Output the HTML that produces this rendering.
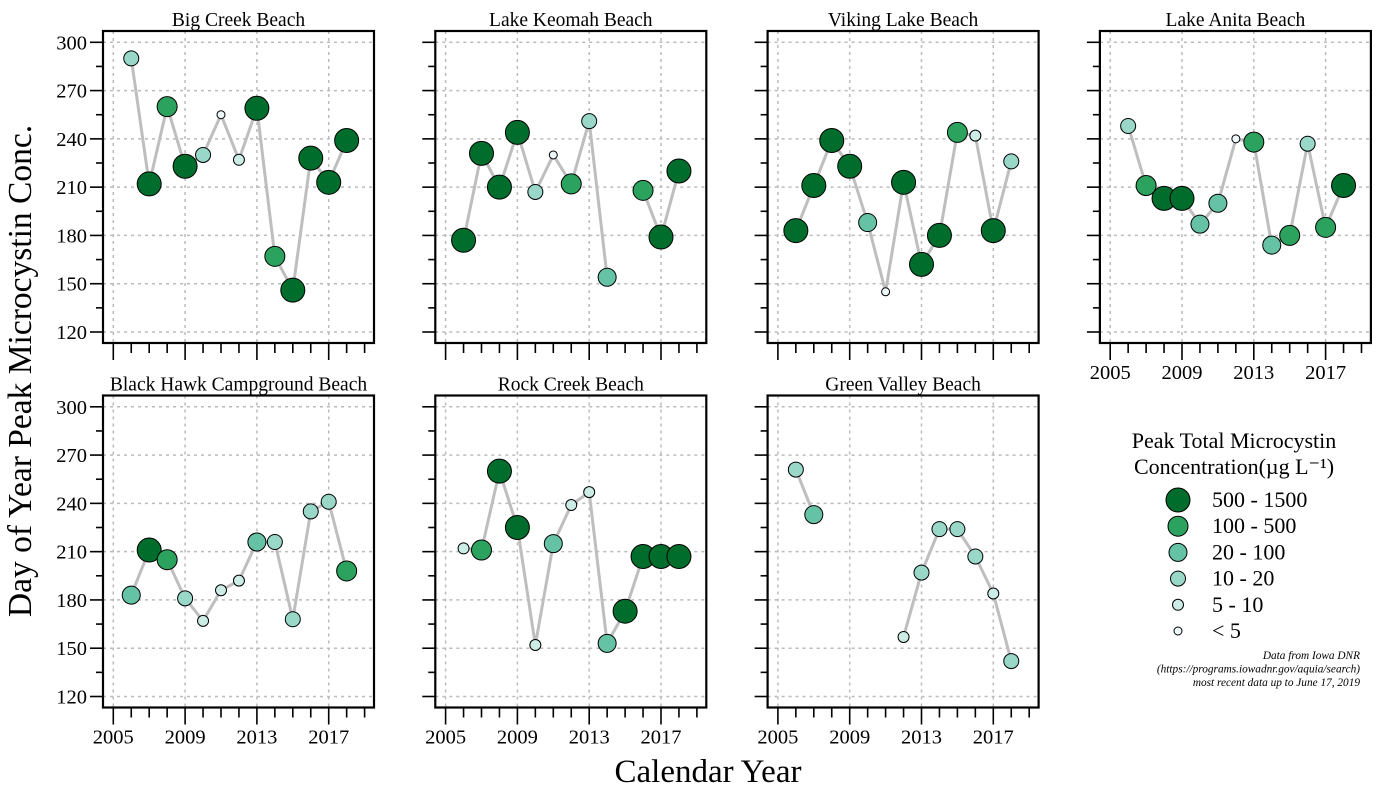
<!DOCTYPE html>
<html><head><meta charset="utf-8"><style>
body{margin:0;background:#fff}
svg{display:block;font-family:"Liberation Serif",serif}
</style></head><body>
<svg id="c" width="1400" height="800"></svg>
<script>
const years=[2006,2007,2008,2009,2010,2011,2012,2013,2014,2015,2016,2017,2018];
const panelNames=["Big Creek Beach","Lake Keomah Beach","Viking Lake Beach","Lake Anita Beach","Black Hawk Campground Beach","Rock Creek Beach","Green Valley Beach"];
const bigCreekDay=[290,212,260,223,230,255,227,259,167,146,228,213,239];
const bigCreekCls=[2,5,4,5,2,0,1,5,4,5,5,5,5];
const keomahDay=[177,231,210,244,207,230,212,251,154,null,208,179,220];
const keomahCls=[5,5,5,5,2,0,4,2,3,null,4,5,5];
const vikingDay=[183,211,239,223,188,145,213,162,180,244,242,183,226];
const vikingCls=[5,5,5,5,3,0,5,5,5,4,1,5,2];
const anitaDay=[248,211,203,203,187,200,240,238,174,180,237,185,211];
const anitaCls=[2,4,5,5,3,3,0,4,3,4,2,4,5];
const blackHawkDay=[183,211,205,181,167,186,192,216,216,168,235,241,198];
const blackHawkCls=[3,5,4,2,1,1,1,3,2,2,2,2,4];
const rockCreekDay=[212,211,260,225,152,215,239,247,153,173,207,207,207];
const rockCreekCls=[1,4,5,5,1,3,1,1,3,5,5,5,5];
const greenValleyDay=[261,233,null,null,null,null,157,197,224,224,207,184,142];
const greenValleyCls=[2,3,null,null,null,null,1,2,2,2,2,1,2];
const classLabels=["< 5","5 - 10","10 - 20","20 - 100","100 - 500","500 - 1500"];
const classColors=["#edf8fb","#ccece6","#99d8c9","#66c2a4","#2ca25f","#006d2c"];
const classR=[4,5.5,7.5,9,10,12];
const yTicks=[120,150,180,210,240,270,300];
const xTickLabels=[2005,2009,2013,2017];

const days=[bigCreekDay,keomahDay,vikingDay,anitaDay,blackHawkDay,rockCreekDay,greenValleyDay];
const clss=[bigCreekCls,keomahCls,vikingCls,anitaCls,blackHawkCls,rockCreekCls,greenValleyCls];
const NS="http://www.w3.org/2000/svg";
const svg=document.getElementById('c');
function mk(t,a,p){const e=document.createElementNS(NS,t);for(const k in a)e.setAttribute(k,a[k]);(p||svg).appendChild(e);return e;}
const PW=271,PH=312;
for(let p=0;p<7;p++){
  const col=p<4?p:p-4,row=p<4?0:1;
  const L=103+col*332.3,T=31+row*364.5;
  const xs=y=>L+10.3+(y-2005)*17.95;
  const ys=v=>T+11.3+(300-v)*(289.7/180);
  const g=mk('g',{});
  
  
  const t=mk('text',{x:L+PW/2,y:T-5,'text-anchor':'middle','font-size':19.5},g);t.textContent=panelNames[p];
  
  
  for(const v of yTicks)mk('line',{x1:L,x2:L+PW,y1:ys(v),y2:ys(v),stroke:'#bbb','stroke-width':1.5,'stroke-dasharray':'3 4'},g);
  for(const v of xTickLabels)mk('line',{x1:xs(v),x2:xs(v),y1:T,y2:T+PH,stroke:'#bbb','stroke-width':1.5,'stroke-dasharray':'3 4'},g);
  for(let v=120;v<=300;v+=15){const maj=v%30==0;mk('line',{x1:L-(maj?13:7),x2:L,y1:ys(v),y2:ys(v),stroke:'#000','stroke-width':1.6},g);
    if(maj&&col==0){const tl=mk('text',{x:L-16,y:ys(v)+7,'text-anchor':'end','font-size':20.5},g);tl.textContent=v;}}
  for(let y=2005;y<=2019;y++){const maj=(y-2005)%4==0;mk('line',{x1:xs(y),x2:xs(y),y1:T+PH,y2:T+PH+(maj?17:10),stroke:'#000','stroke-width':1.6},g);
    if(maj&&(row==1||col==3)){const tl=mk('text',{x:xs(y),y:T+PH+36,'text-anchor':'middle','font-size':20.5},g);tl.textContent=y;}}
  const d=days[p],c=clss[p];
  for(let i=0;i<years.length-1;i++){if(d[i]!=null&&d[i+1]!=null){const ln=mk('line',{x1:xs(years[i]),y1:ys(d[i]),x2:xs(years[i+1]),y2:ys(d[i+1]),stroke:'#bebebe','stroke-width':3},g);
    
    }}
  for(let i=0;i<years.length;i++){if(d[i]==null)continue;const ci=mk('circle',{cx:xs(years[i]),cy:ys(d[i]),r:classR[c[i]],fill:classColors[c[i]],stroke:'#000','stroke-width':1},g);
    
    }
  mk('rect',{x:L,y:T,width:PW,height:PH,fill:'none',stroke:'#000','stroke-width':2.2},g);
}
let e=mk('text',{x:0,y:0,'font-size':33.5,'text-anchor':'middle',transform:'translate(31,371) rotate(-90)'});e.textContent="Day of Year Peak Microcystin Conc.";


e=mk('text',{x:708,y:782,'font-size':33,'text-anchor':'middle'});e.textContent="Calendar Year";


const lg=mk('g',{});


e=mk('text',{x:1234,y:448,'font-size':22,'text-anchor':'middle'},lg);e.textContent="Peak Total Microcystin";
e=mk('text',{x:1234,y:474,'font-size':22,'text-anchor':'middle'},lg);e.textContent="Concentration(\u00b5g L\u207b\u00b9)";
for(let k=0;k<6;k++){const c=5-k,y=500+k*26.2;
  const ci=mk('circle',{cx:1178,cy:y,r:classR[c],fill:classColors[c],stroke:'#000','stroke-width':1},lg);
  
  
  const tx=mk('text',{x:1212,y:y+7,'font-size':22},lg);tx.textContent=classLabels[c];}
const notes=["Data from Iowa DNR","(https://programs.iowadnr.gov/aquia/search)","most recent data up to June 17, 2019"];
notes.forEach((n,i)=>{const tx=mk('text',{x:1360,y:659+i*13.5,'font-size':11.3,'font-style':'italic','text-anchor':'end'});tx.textContent=n;
  
  });
</script>
</body></html>
